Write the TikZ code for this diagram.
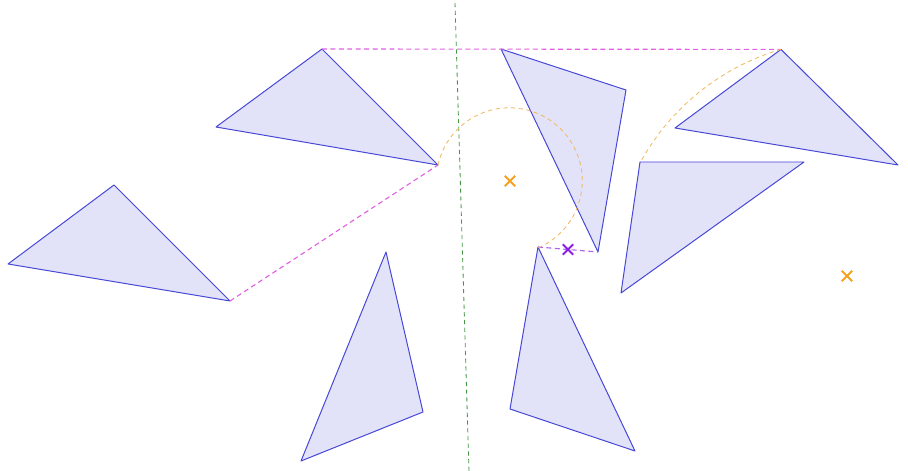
\documentclass[tikz,border=0pt]{standalone}
\usepackage{tikz}
\usetikzlibrary{calc,shapes.misc}
\definecolor{trifill}{RGB}{226,226,248}
\definecolor{triline}{RGB}{70,70,215}
\definecolor{pinkdash}{RGB}{225,95,225}
\definecolor{greendash}{RGB}{70,150,70}
\definecolor{orangearc}{RGB}{240,185,100}
\definecolor{orangemark}{RGB}{245,160,30}
\definecolor{purplemark}{RGB}{140,30,230}

\begin{document}
\begin{tikzpicture}[x=0.025cm,y=-0.025cm,
 tri/.style={draw=triline,fill=trifill,line width=0.7pt,line join=round},
 link/.style={draw=pinkdash,line width=0.8pt,dash pattern=on 3.5pt off 2.5pt},
 axis/.style={draw=greendash,line width=0.6pt,dash pattern=on 3pt off 2.5pt},
 turn/.style={draw=orangearc,line width=0.6pt,dash pattern=on 3pt off 2.5pt},
 ctr/.style={cross out,draw=#1,line width=1.3pt,minimum size=6pt,inner sep=0pt}]
\useasboundingbox (0,0) rectangle (908,471);
% vertices
\coordinate (a1) at (322,49);  \coordinate (a2) at (216,127); \coordinate (a3) at (438,165);
\coordinate (b1) at (114,185); \coordinate (b2) at (8,264);   \coordinate (b3) at (230,301);
\coordinate (c1) at (501,49);  \coordinate (c2) at (626,90);  \coordinate (c3) at (598,252);
\coordinate (d1) at (781,49.4);  \coordinate (d2) at (675,128); \coordinate (d3) at (898,165);
\coordinate (e1) at (640,162); \coordinate (e2) at (804,162); \coordinate (e3) at (621,293);
\coordinate (f1) at (386,252); \coordinate (f2) at (423,412); \coordinate (f3) at (301,461);
\coordinate (g1) at (538,247); \coordinate (g2) at (635,451); \coordinate (g3) at (510,409);
\coordinate (top) at (455,3);  \coordinate (bot) at (469,471);
% triangles
\path[tri] (a1)--(a2)--(a3)--cycle;
\path[tri] (b1)--(b2)--(b3)--cycle;
\path[tri] (c1)--(c2)--(c3)--cycle;
\path[tri] (d1)--(d2)--(d3)--cycle;
\path[tri] (e1)--(e2)--(e3)--cycle;
\path[tri] (f1)--(f2)--(f3)--cycle;
\path[tri] (g1)--(g2)--(g3)--cycle;
% guides
\path[axis] (top)--(bot);
\path[link] (a1)--(d1);
\path[link] (b3)--(a3);
\path[link,draw=purplemark!70] (g1)--(c3);
\path[turn] (a3) arc[start angle=-167.5,end angle=67,radius=73];
\path[turn] (d1) arc[start angle=-106.3,end angle=-151.2,radius=236];
% centres
\node[ctr=orangemark] (o1) at (510,181) {};
\node[ctr=orangemark] (o2) at (847,276) {};
\node[ctr=purplemark] (m) at ($(g1)!0.5!(c3)$) {};
\end{tikzpicture}
\end{document}
